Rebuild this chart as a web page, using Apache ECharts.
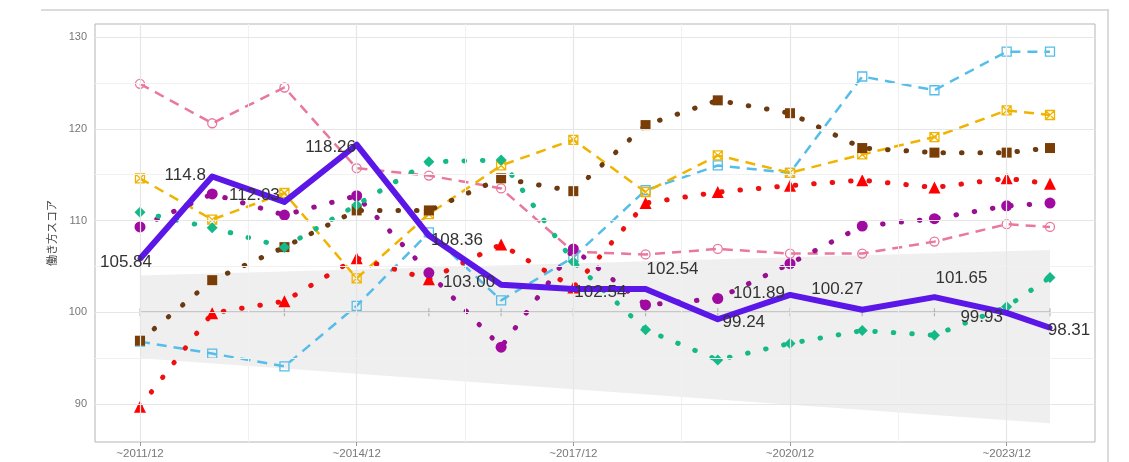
<!DOCTYPE html>
<html><head><meta charset="utf-8">
<script src="https://cdn.jsdelivr.net/npm/echarts@6/dist/echarts.min.js"></script>
<style>html,body{margin:0;padding:0;background:#fff}#c{width:1129px;height:462px}</style>
</head><body><div id="c"></div>
<script>
// ---- data ----
const xPos = [0,1,2,3,4,5,6,7,8,9,10,11,12,12.6];
const tickValues = [0,3,6,9,12];
const tickLabels = ['~2011/12','~2014/12','~2017/12','~2020/12','~2023/12'];
const yTicks = [90,100,110,120,130];
const mainScore   = [105.84,114.8,112.03,118.26,108.36,103.00,102.54,102.54,99.24,101.89,100.27,101.65,99.93,98.31];
const pinkSeries  = [124.9,120.6,124.5,115.7,114.9,113.5,106.6,106.3,106.9,106.4,106.4,107.7,109.6,109.3];
const blueSeries  = [96.8,95.5,94.1,100.7,108.7,101.3,106.0,113.3,116.0,115.2,125.7,124.2,128.4,128.4];
const goldSeries  = [114.6,110.1,113.0,103.7,110.7,116.0,118.8,113.1,117.1,115.2,117.2,119.1,122.0,121.5];
const brownSeries = [96.9,103.5,107.1,111.1,111.1,114.6,113.2,120.4,123.1,121.7,117.9,117.4,117.4,117.9];
const redSeries   = [89.7,99.9,101.2,105.9,103.6,107.4,102.7,111.9,113.1,113.8,114.4,113.6,114.6,114.0];
const purpleSeries= [109.3,112.9,110.6,112.7,104.3,96.2,106.9,100.8,101.5,105.3,109.4,110.2,111.6,111.9];
const greenSeries = [110.9,109.2,107.1,111.7,116.4,116.6,105.5,98.1,94.8,96.6,98.0,97.5,100.6,103.8];
const bandX = [0, 12.6];
const bandLower = [95.0, 87.9];
const bandUpper = [104.0, 106.8];
const refValue = 100;

// ---- styles ----
const labelOffsets = [[-14,4],[-27,-1],[-30,-7],[-26,3],[28,5],[-32,-2],[27,3],[27,-20],[26,3],[-31,-2],[-25,-20],[27,-19],[-25,4],[19,3]];
const pair = arr => arr.map((v,i)=>[xPos[i], v]);
const majorX = [0,3,6,9,12], minorX = [1.5,4.5,7.5,10.5];
const majorY = [90,100,110,120,130], minorY = [95,105,115,125];
const dotted = (c) => ({color:c, width:5, type:[0.5,18], cap:'round'});
const dashed = (c) => ({color:c, width:2.5, type:[10,7]});

const chart = echarts.init(document.getElementById('c'), null, {renderer:'canvas'});
const gridLines = [];
majorX.forEach(v=>gridLines.push({xAxis:v, lineStyle:{color:'#e6e6e6', width:1.2, type:'solid'}}));
minorX.forEach(v=>gridLines.push({xAxis:v, lineStyle:{color:'#f1f1f1', width:1, type:'solid'}}));
majorY.forEach(v=>gridLines.push({yAxis:v, lineStyle:{color:'#e6e6e6', width:1.2, type:'solid'}}));
minorY.forEach(v=>gridLines.push({yAxis:v, lineStyle:{color:'#f1f1f1', width:1, type:'solid'}}));

const option = {
  animation:false,
  backgroundColor:'#fff',
  grid:{left:95, right:34, top:24, bottom:20, show:true, borderColor:'#b5b5b5', borderWidth:1, backgroundColor:'#fff'},
  xAxis:{type:'value', min:-0.623, max:13.223,
    axisLine:{show:false}, splitLine:{show:false},
    axisTick:{show:true, length:4, lineStyle:{color:'#999'}, customValues:tickValues},
    axisLabel:{customValues:tickValues, formatter:(v)=>tickLabels[tickValues.indexOf(v)]||'', color:'#777', fontSize:11.5, margin:6, fontFamily:'Liberation Sans'}
  },
  yAxis:{type:'value', min:85.86, max:131.42,
    name:'働き方スコア', nameLocation:'middle', nameRotate:90, nameGap:32,
    nameTextStyle:{fontSize:11, color:'#444', fontFamily:'Noto Sans CJK JP'},
    axisLine:{show:false}, splitLine:{show:false},
    axisTick:{show:true, length:4, lineStyle:{color:'#999'}, customValues:yTicks},
    axisLabel:{customValues:yTicks, color:'#777', fontSize:11, margin:8, fontFamily:'Liberation Sans'}
  },
  graphic:[
    {type:'line', shape:{x1:41,y1:10,x2:1109,y2:10}, style:{stroke:'#cfcfcf', lineWidth:1.5}, silent:true},
    {type:'line', shape:{x1:1108,y1:10,x2:1108,y2:462}, style:{stroke:'#cfcfcf', lineWidth:1.5}, silent:true}
  ],
  series:[
    {type:'line', name:'grid', data:[], z:0, silent:true,
      markLine:{silent:true, symbol:['none','none'], label:{show:false}, data:gridLines, animation:false}},
    {type:'custom', name:'band', z:1, silent:true,
      data:[[0]],
      renderItem:(params, api)=>{
        const p1 = api.coord([bandX[0], bandUpper[0]]);
        const p2 = api.coord([bandX[1], bandUpper[1]]);
        const p3 = api.coord([bandX[1], bandLower[1]]);
        const p4 = api.coord([bandX[0], bandLower[0]]);
        return {type:'polygon', shape:{points:[p1,p2,p3,p4]}, style:{fill:'rgba(190,190,190,0.25)'}};
      }},
    {type:'line', name:'ref', z:2, silent:true, symbol:'none',
      data:[[xPos[0],refValue],[xPos[xPos.length-1],refValue]],
      lineStyle:{color:'#a0a0a0', width:1.5}},
    {type:'scatter', name:'refTicks', z:2, silent:true, symbol:'rect', symbolSize:[1.2,8],
      data:xPos.map(x=>[x, refValue]), itemStyle:{color:'#a8a8a8'}},
    {type:'line', name:'pink', z:3, data:pair(pinkSeries), symbol:'circle', symbolSize:9,
      lineStyle:dashed('#e8789c'), itemStyle:{color:'rgba(255,255,255,0)', borderColor:'#e8789c', borderWidth:1.3}},
    {type:'line', name:'blue', z:3, data:pair(blueSeries), symbol:'rect', symbolSize:9,
      lineStyle:dashed('#55bde9'), itemStyle:{color:'rgba(255,255,255,0)', borderColor:'#55bde9', borderWidth:1.3}},
    {type:'line', name:'gold', z:3, data:pair(goldSeries),
      symbol:'path://M0,0L10,0L10,10L0,10Z M0,0L10,10 M10,0L0,10', symbolSize:9,
      lineStyle:dashed('#f0b400'), itemStyle:{color:'rgba(255,255,255,0)', borderColor:'#f0b400', borderWidth:1.3}},
    {type:'line', name:'brown', z:4, data:pair(brownSeries), symbol:'rect', symbolSize:10,
      lineStyle:dotted('#6b3a10'), itemStyle:{color:'#7a3d06'}},
    {type:'line', name:'red', z:4, data:pair(redSeries), symbol:'triangle', symbolSize:12,
      lineStyle:dotted('#ee1010'), itemStyle:{color:'#ff0000'}},
    {type:'line', name:'purple', z:4, data:pair(purpleSeries), symbol:'circle', symbolSize:11,
      lineStyle:dotted('#98108f'), itemStyle:{color:'#a00aa0'}},
    {type:'line', name:'green', z:4, data:pair(greenSeries), symbol:'diamond', symbolSize:11,
      lineStyle:dotted('#14b987'), itemStyle:{color:'#14b987'}},
    {type:'line', name:'main', z:10, symbol:'circle', symbolSize:5,
      data:mainScore.map((v,i)=>({value:[xPos[i], v], label:{offset:labelOffsets[i]}})),
      lineStyle:{color:'#5b16e8', width:6, join:'round'}, itemStyle:{color:'#5b16e8'},
      label:{show:true, position:'inside', align:'center', verticalAlign:'middle',
        formatter:(p)=>p.value[1].toFixed(2).replace(/\.?0$/, m=>m) , color:'#333', fontSize:17,
        fontFamily:'Liberation Sans', textBorderWidth:0}}
  ]
};
// label text: keep as read (e.g. 114.8, 103.00)
const labelTexts = ['105.84','114.8','112.03','118.26','108.36','103.00','102.54','102.54','99.24','101.89','100.27','101.65','99.93','98.31'];
option.series[option.series.length-1].label.formatter = (p)=>labelTexts[p.dataIndex];
chart.setOption(option);
</script></body></html>
